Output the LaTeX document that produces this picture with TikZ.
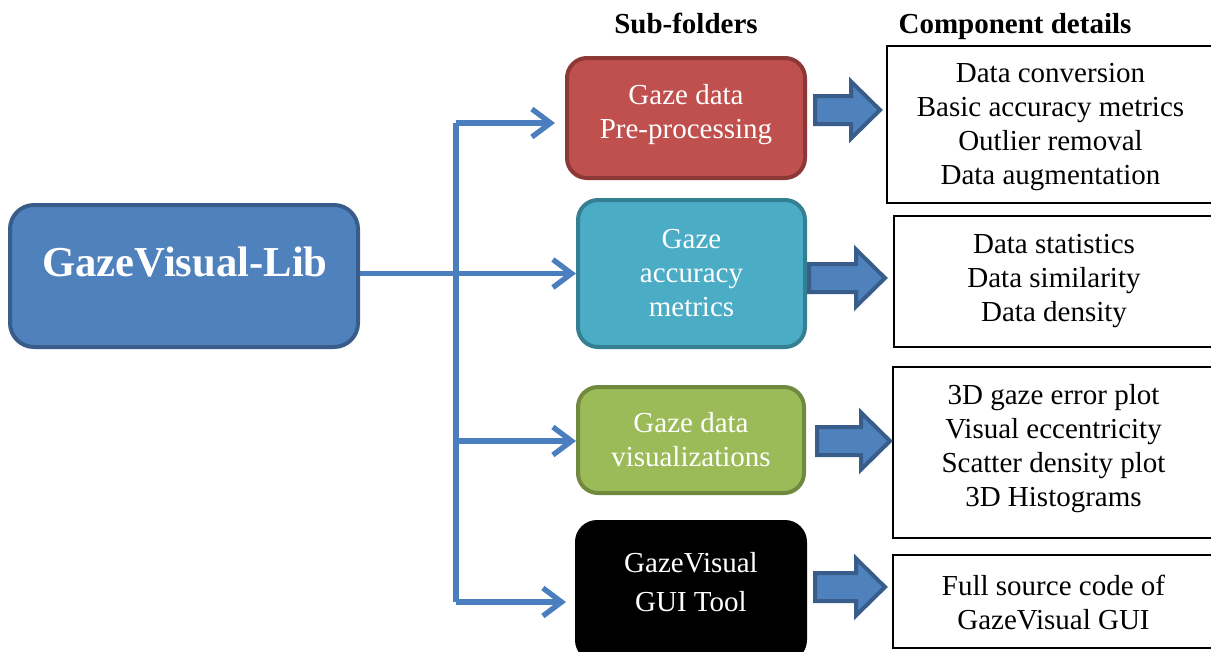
\documentclass[tikz,border=0pt]{standalone}
\usepackage{fontspec}
\setmainfont{Liberation Serif}
\usetikzlibrary{arrows.meta,calc}

\definecolor{libfill}{HTML}{4F81BD}
\definecolor{libline}{HTML}{385D8A}
\definecolor{linkblue}{HTML}{4A7EBF}
\definecolor{redfill}{HTML}{C0504D}
\definecolor{redline}{HTML}{8C3836}
\definecolor{tealfill}{HTML}{4BACC6}
\definecolor{tealline}{HTML}{357F93}
\definecolor{greenfill}{HTML}{9BBB59}
\definecolor{greenline}{HTML}{71893F}

% wide block arrow between two boxes, at a given row
\newcommand\fatarrow[5]{%
  \path (#1.east |- 0,#3) ++(#4,0) coordinate (fas)
        (#2.west |- 0,#3) ++(-#5,0) coordinate (fae);
  \draw[fat] ($(fas)+(0,-14)$) -- ($(fae)+(-29,-14)$) -- ($(fae)+(-29,-28.5)$)
     -- (fae) -- ($(fae)+(-29,28.5)$) -- ($(fae)+(-29,14)$) -- ($(fas)+(0,14)$) -- cycle;}

\begin{document}
\begin{tikzpicture}[x=0.75pt,y=-0.75pt,
  txt/.style={font={\fontsize{21.75pt}{25.5pt}\selectfont}, align=center},
  head/.style={font={\fontsize{21.75pt}{25.5pt}\selectfont\bfseries}, anchor=base},
  folder/.style={txt, text=white, rectangle, rounded corners=15pt, line width=3pt, inner sep=0pt},
  detail/.style={txt, rectangle, draw=black, line width=1.5pt, inner sep=0pt},
  link/.style={draw=linkblue, line width=4pt},
  linkarrow/.style={link, -{Straight Barb[length=14pt,width=21pt,line width=4pt]}},
  fat/.style={fill=libfill, draw=libline, line width=3pt, line join=miter}]
\useasboundingbox (0,0) rectangle (1211,651);
\clip (0,0) rectangle (1211,651);

% column headings
\node[head] (hsub) at (686,33) {Sub-folders};
\node[head] (hcomp) at (1015,33) {Component details};

% library box
\node[rectangle, rounded corners=18pt, fill=libfill, draw=libline, line width=3pt,
      minimum width={348*0.75pt}, minimum height={142*0.75pt}] (lib) at (184,276) {};
\node[text=white, font={\fontsize{32pt}{38pt}\selectfont\bfseries}] (libtxt) at (185,262) {GazeVisual-Lib};

% sub-folder boxes
\node[folder, fill=redfill, draw=redline, minimum width={238*0.75pt}, minimum height={120*0.75pt}]
  (pre) at (686,118) {};
\node[txt, text=white] (pretxt) at (686,115) {Gaze data\\Pre-processing};

\node[folder, fill=tealfill, draw=tealline, minimum width={227*0.75pt}, minimum height={147*0.75pt}]
  (acc) at (691.5,273.5) {Gaze\\accuracy\\metrics};

\node[folder, fill=greenfill, draw=greenline, minimum width={226*0.75pt}, minimum height={106*0.75pt}]
  (vis) at (691,440) {Gaze data\\visualizations};

\node[folder, fill=black, draw=black, minimum width={228*0.75pt}, minimum height={138*0.75pt}]
  (gui) at (691,591) {};
\node[txt, text=white, font={\fontsize{21.75pt}{29pt}\selectfont}] (guitxt) at (691,582) {GazeVisual\\GUI Tool};

% component detail boxes
\node[detail, minimum width={327*0.75pt}, minimum height={157*0.75pt}] (d1) at (1050.5,124) {};
\node[txt] (d1txt) at (1050.5,127)
  {Data conversion\\Basic accuracy metrics\\Outlier removal\\Data augmentation};
\node[detail, minimum width={320*0.75pt}, minimum height={131*0.75pt}] (d2) at (1054,281.5) {};
\node[txt] (d2txt) at (1054,281)
  {Data statistics\\Data similarity\\Data density};
\node[detail, minimum width={321*0.75pt}, minimum height={171*0.75pt}] (d3) at (1053.5,452.5) {};
\node[txt] (d3txt) at (1053.5,449)
  {3D gaze error plot\\Visual eccentricity\\Scatter density plot\\3D Histograms};
\node[detail, minimum width={321*0.75pt}, minimum height={93*0.75pt}] (d4) at (1053.5,601.5) {};
\node[txt] (d4txt) at (1053.5,602)
  {Full source code of\\GazeVisual GUI};

% branching connectors
\coordinate (ttop) at (456,123);
\coordinate (tbot) at (456,602);
\draw[link] (ttop) -- (tbot);
\draw[linkarrow] (lib.east |- acc.west) -- (acc.west);
\draw[linkarrow] (ttop) -- ([xshift=-7.5pt]ttop -| pre.west);
\draw[linkarrow] (ttop |- 0,441) -- (vis.west |- 0,441);
\draw[linkarrow] (tbot) -- ([xshift=-6.75pt]tbot -| gui.west);

% block arrows to the detail boxes
\fatarrow{pre}{d1}{110}{8}{6}
\fatarrow{acc}{d2}{278}{2}{8}
\fatarrow{vis}{d3}{441}{11}{2}
\fatarrow{gui}{d4}{587}{8}{7}
\end{tikzpicture}
\end{document}
